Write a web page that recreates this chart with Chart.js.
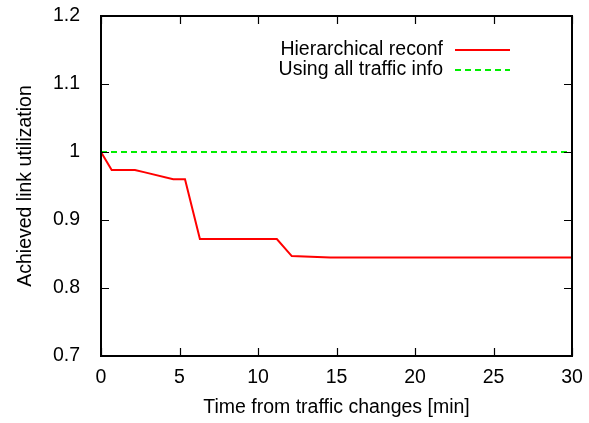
<!DOCTYPE html>
<html>
<head>
<meta charset="utf-8">
<script src="https://cdn.jsdelivr.net/npm/chart.js@4.4.0/dist/chart.umd.min.js"></script>
<style>
  html, body { margin: 0; padding: 0; background: #fff; }
  #wrap { width: 589px; height: 423px; }
</style>
</head>
<body>
<div id="wrap"><canvas id="chart" width="589" height="423"></canvas></div>
<script>
// values
const hierTime = [0, 0.68, 2.16, 2.8, 4.6, 5.35, 6.3, 11.2, 12.15, 14.6, 30];
const hierUtil = [1.0, 0.9735, 0.9735, 0.970, 0.960, 0.960, 0.872, 0.872, 0.847, 0.845, 0.845];
const allTime = [0, 30];
const allUtil = [1.0, 1.0];
const xTicks = [0, 5, 10, 15, 20, 25, 30];
const yTicks = [0.7, 0.8, 0.9, 1.0, 1.1, 1.2];
const seriesNames = ["Hierarchical reconf", "Using all traffic info"];

const FONT = "'Liberation Sans', Arial, Helvetica, sans-serif";
const FSIZE = 19.5;

function toPoints(xs, ys) {
  return xs.map((x, i) => ({ x: x, y: ys[i] }));
}

// gnuplot style frame, inward ticks (mirrored) and the key
const framePlugin = {
  id: "frame",
  afterDraw(chart) {
    const ctx = chart.ctx;
    const a = chart.chartArea;
    const xs = chart.scales.x, ys = chart.scales.y;
    const tl = 8;
    ctx.save();
    ctx.strokeStyle = "#000";
    ctx.lineWidth = 2;
    ctx.strokeRect(a.left, a.top, a.right - a.left, a.bottom - a.top);
    ctx.lineWidth = 1.2;
    ctx.beginPath();
    xTicks.forEach((v) => {
      const px = Math.round(xs.getPixelForValue(v)) + 0.5;
      ctx.moveTo(px, a.bottom); ctx.lineTo(px, a.bottom - tl);
      ctx.moveTo(px, a.top); ctx.lineTo(px, a.top + tl);
    });
    yTicks.forEach((v) => {
      const py = Math.round(ys.getPixelForValue(v)) + 0.5;
      ctx.moveTo(a.left, py); ctx.lineTo(a.left + tl, py);
      ctx.moveTo(a.right, py); ctx.lineTo(a.right - tl, py);
    });
    ctx.stroke();

    // key
    ctx.font = FSIZE + "px " + FONT;
    ctx.fillStyle = "#000";
    ctx.textAlign = "right";
    ctx.textBaseline = "middle";
    const keyX = a.right - 129;
    const keyY = [a.top + 34, a.top + 54];
    chart.data.datasets.forEach((ds, i) => {
      ctx.fillText(ds.label, keyX, keyY[i]);
      ctx.strokeStyle = ds.borderColor;
      ctx.lineWidth = 2;
      ctx.setLineDash(ds.borderDash || []);
      ctx.beginPath();
      ctx.moveTo(keyX + 12, keyY[i]);
      ctx.lineTo(keyX + 67, keyY[i]);
      ctx.stroke();
      ctx.setLineDash([]);
    });
    ctx.restore();
  }
};

new Chart(document.getElementById("chart"), {
  type: "line",
  data: {
    datasets: [
      {
        label: seriesNames[0],
        data: toPoints(hierTime, hierUtil),
        borderColor: "#ff0000",
        borderWidth: 2,
        pointRadius: 0,
        tension: 0,
        order: 0
      },
      {
        label: seriesNames[1],
        data: toPoints(allTime, allUtil),
        borderColor: "#00ee00",
        borderWidth: 2,
        borderDash: [6, 4],
        pointRadius: 0,
        tension: 0,
        order: 1
      }
    ]
  },
  options: {
    responsive: false,
    animation: false,
    layout: { padding: { top: 16, right: 17, left: 0, bottom: 0 } },
    plugins: {
      legend: { display: false },
      tooltip: { enabled: false }
    },
    scales: {
      x: {
        type: "linear",
        min: 0,
        max: 30,
        afterBuildTicks(scale) { scale.ticks = xTicks.map((v) => ({ value: v })); },
        afterFit(scale) {
          scale.height = 67;
          scale.paddingLeft = 0;
          scale.paddingRight = 0;
        },
        grid: { display: false },
        border: { display: false },
        ticks: { color: "#000", font: { family: FONT, size: FSIZE }, padding: 2, maxRotation: 0 },
        title: {
          display: true,
          text: "Time from traffic changes [min]",
          color: "#000",
          font: { family: FONT, size: FSIZE },
          padding: { top: 4, bottom: 4 }
        }
      },
      y: {
        min: 0.7,
        max: 1.2,
        afterBuildTicks(scale) { scale.ticks = yTicks.map((v) => ({ value: v })); },
        afterFit(scale) {
          scale.width = 101;
          scale.paddingTop = 0;
          scale.paddingBottom = 0;
        },
        grid: { display: false },
        border: { display: false },
        ticks: {
          color: "#000",
          font: { family: FONT, size: FSIZE },
          padding: 13,
          callback: (v) => String(Math.round(v * 10) / 10)
        },
        title: {
          display: true,
          text: "Achieved link utilization",
          color: "#000",
          font: { family: FONT, size: FSIZE },
          padding: { top: 14, bottom: 0 }
        }
      }
    }
  },
  plugins: [framePlugin]
});
</script>
</body>
</html>
